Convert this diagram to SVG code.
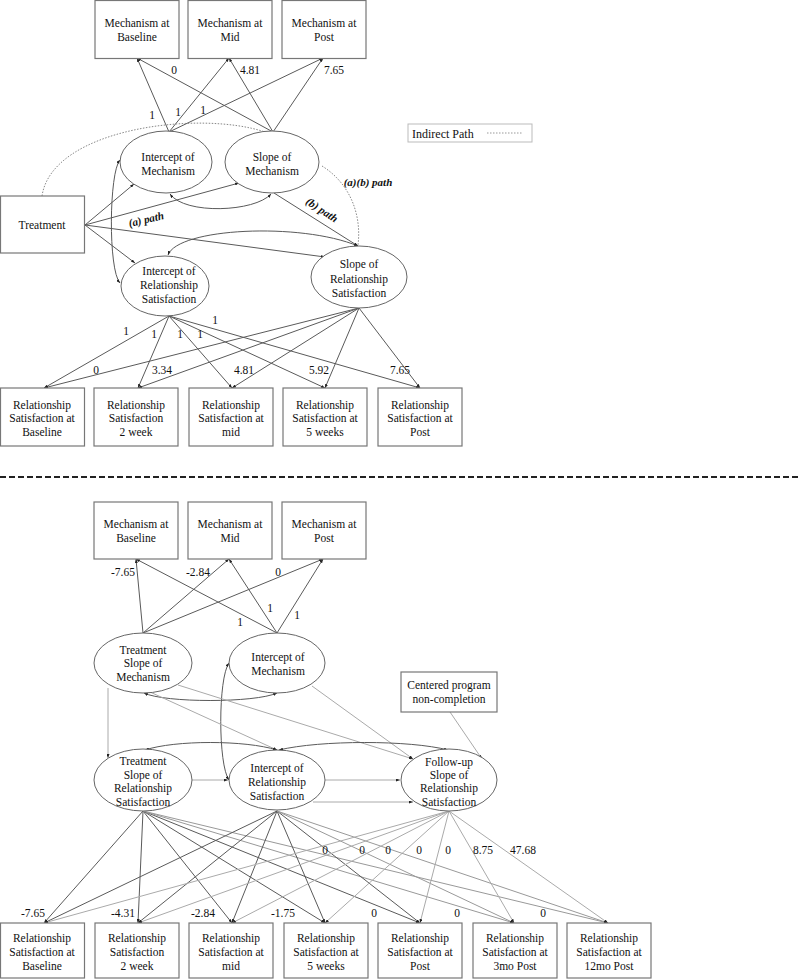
<svg xmlns="http://www.w3.org/2000/svg" width="800" height="980" viewBox="0 0 800 980" font-family="'Liberation Serif','Times New Roman',serif">
<style>
.box{fill:#fff;stroke:#777;stroke-width:1.2}
.ell{fill:#fff;stroke:#666;stroke-width:1}
text{font-family:"Liberation Serif","Times New Roman",serif;font-size:11.5px;fill:#111}
.t{text-anchor:middle}
.lab{font-size:11.5px}
.bi{font-weight:bold;font-style:italic;font-size:11px}
.d{stroke:#5a5a5a;stroke-width:1;fill:none}
.l{stroke:#aaa;stroke-width:1;fill:none}
.m{stroke:#999;stroke-width:1;fill:none}
.dot{stroke:#888;stroke-width:1;fill:none;stroke-dasharray:1.5 1.5}
</style>
<defs>
<marker id="a" markerWidth="4" markerHeight="3" refX="4" refY="1.5" orient="auto" markerUnits="userSpaceOnUse"><path d="M0,0 L4,1.5 L0,3 z" fill="#222"/></marker>
<marker id="s" markerWidth="4" markerHeight="3" refX="0" refY="1.5" orient="auto" markerUnits="userSpaceOnUse"><path d="M4,0 L0,1.5 L4,3 z" fill="#222"/></marker>
</defs>

<g id="connectors">
<line class="d" x1="169" y1="132" x2="137" y2="58" marker-end="url(#a)"/>
<line class="d" x1="169" y1="132" x2="229" y2="58" marker-end="url(#a)"/>
<line class="d" x1="169" y1="132" x2="323" y2="58" marker-end="url(#a)"/>
<line class="d" x1="273" y1="132" x2="137" y2="58" marker-end="url(#a)"/>
<line class="d" x1="273" y1="132" x2="229" y2="58" marker-end="url(#a)"/>
<line class="d" x1="273" y1="132" x2="323" y2="58" marker-end="url(#a)"/>
<path class="dot" d="M42,196 C52,128 200,110 265,132"/>
<path class="dot" d="M322,166 C348,182 362,212 358,245"/>
<line class="d" x1="85" y1="225" x2="134" y2="184" marker-end="url(#a)"/>
<line class="d" x1="85" y1="225" x2="239" y2="183" marker-end="url(#a)"/>
<line class="d" x1="85" y1="225" x2="135" y2="263" marker-end="url(#a)"/>
<line class="d" x1="85" y1="225" x2="325" y2="257" marker-end="url(#a)"/>
<line class="d" x1="274" y1="193" x2="358" y2="246" marker-end="url(#a)"/>
<path class="d" d="M170,194 C185,215 255,212 271,194" marker-start="url(#s)" marker-end="url(#a)"/>
<path class="d" d="M168,255 C178,228 300,222 358,246" marker-start="url(#s)" marker-end="url(#a)"/>
<path class="d" d="M120,160 C109,172 108,270 120,283" marker-start="url(#s)" marker-end="url(#a)"/>
<line class="d" x1="169" y1="316" x2="44" y2="388" marker-end="url(#a)"/>
<line class="d" x1="169" y1="316" x2="138" y2="388" marker-end="url(#a)"/>
<line class="d" x1="169" y1="316" x2="232" y2="388" marker-end="url(#a)"/>
<line class="d" x1="169" y1="316" x2="325" y2="388" marker-end="url(#a)"/>
<line class="d" x1="169" y1="316" x2="420" y2="388" marker-end="url(#a)"/>
<line class="d" x1="359" y1="308" x2="44" y2="388" marker-end="url(#a)"/>
<line class="d" x1="359" y1="308" x2="138" y2="388" marker-end="url(#a)"/>
<line class="d" x1="359" y1="308" x2="232" y2="388" marker-end="url(#a)"/>
<line class="d" x1="359" y1="308" x2="325" y2="388" marker-end="url(#a)"/>
<line class="d" x1="359" y1="308" x2="420" y2="388" marker-end="url(#a)"/>
<line x1="0" y1="477" x2="800" y2="477" stroke="#222" stroke-width="2" stroke-dasharray="6 3"/>

<line class="d" x1="143" y1="633" x2="136" y2="559" marker-end="url(#a)"/>
<line class="d" x1="143" y1="633" x2="229" y2="559" marker-end="url(#a)"/>
<line class="d" x1="143" y1="633" x2="323" y2="559" marker-end="url(#a)"/>
<line class="d" x1="277" y1="633" x2="136" y2="559" marker-end="url(#a)"/>
<line class="d" x1="277" y1="633" x2="229" y2="559" marker-end="url(#a)"/>
<line class="d" x1="277" y1="633" x2="323" y2="559" marker-end="url(#a)"/>
<path class="d" d="M144,693 C165,703 255,703 277,693" marker-start="url(#s)" marker-end="url(#a)"/>
<path class="d" d="M229,663 C218,678 218,765 229,780" marker-start="url(#s)" marker-end="url(#a)"/>
<line class="l" x1="108" y1="688" x2="108" y2="758" marker-end="url(#a)"/>
<line class="l" x1="150" y1="692" x2="277" y2="750" marker-end="url(#a)"/>
<line class="l" x1="178" y1="685" x2="413" y2="759" marker-end="url(#a)"/>
<line class="l" x1="312" y1="686" x2="413" y2="759" marker-end="url(#a)"/>
<line class="l" x1="450" y1="712" x2="482" y2="759" marker-end="url(#a)"/>
<path class="d" d="M145,750 C175,740 245,740 277,750" marker-start="url(#s)" marker-end="url(#a)"/>
<path class="d" d="M279,750 C320,740 410,740 448,750" marker-start="url(#s)" marker-end="url(#a)"/>
<line class="l" x1="192" y1="780" x2="228" y2="780" marker-end="url(#a)"/>
<line class="l" x1="325" y1="780" x2="400" y2="780" marker-end="url(#a)"/>
<line class="l" x1="313" y1="802" x2="413" y2="802" marker-end="url(#a)"/>
<line class="d" x1="143" y1="811" x2="44" y2="923" marker-end="url(#a)"/>
<line class="d" x1="143" y1="811" x2="138" y2="923" marker-end="url(#a)"/>
<line class="d" x1="143" y1="811" x2="232" y2="923" marker-end="url(#a)"/>
<line class="d" x1="143" y1="811" x2="325" y2="923" marker-end="url(#a)"/>
<line class="d" x1="143" y1="811" x2="420" y2="923" marker-end="url(#a)"/>
<line class="m" x1="143" y1="811" x2="514" y2="923" marker-end="url(#a)"/>
<line class="m" x1="143" y1="811" x2="608" y2="923" marker-end="url(#a)"/>
<line class="d" x1="277" y1="811" x2="44" y2="923" marker-end="url(#a)"/>
<line class="d" x1="277" y1="811" x2="138" y2="923" marker-end="url(#a)"/>
<line class="d" x1="277" y1="811" x2="232" y2="923" marker-end="url(#a)"/>
<line class="d" x1="277" y1="811" x2="325" y2="923" marker-end="url(#a)"/>
<line class="d" x1="277" y1="811" x2="420" y2="923" marker-end="url(#a)"/>
<line class="m" x1="277" y1="811" x2="514" y2="923" marker-end="url(#a)"/>
<line class="m" x1="277" y1="811" x2="608" y2="923" marker-end="url(#a)"/>
<line class="l" x1="449" y1="811" x2="44" y2="923" marker-end="url(#a)"/>
<line class="l" x1="449" y1="811" x2="138" y2="923" marker-end="url(#a)"/>
<line class="l" x1="449" y1="811" x2="232" y2="923" marker-end="url(#a)"/>
<line class="l" x1="449" y1="811" x2="325" y2="923" marker-end="url(#a)"/>
<line class="l" x1="449" y1="811" x2="420" y2="923" marker-end="url(#a)"/>
<line class="l" x1="449" y1="811" x2="514" y2="923" marker-end="url(#a)"/>
<line class="l" x1="449" y1="811" x2="608" y2="923" marker-end="url(#a)"/>
</g>

<g id="labels">
<text class="lab t" x="174" y="74">0</text>
<text class="lab t" x="250" y="74">4.81</text>
<text class="lab t" x="334" y="74">7.65</text>
<text class="lab t" x="152" y="119">1</text>
<text class="lab t" x="178" y="116">1</text>
<text class="lab t" x="203" y="114">1</text>
<text class="bi t" x="368" y="186">(a)(b) path</text>
<text class="bi t" transform="translate(320,213) rotate(33)">(b) path</text>
<text class="bi t" transform="translate(147,223) rotate(-13)">(a) path</text>
<text class="lab t" x="126" y="335">1</text>
<text class="lab t" x="154" y="338">1</text>
<text class="lab t" x="180" y="338">1</text>
<text class="lab t" x="200" y="338">1</text>
<text class="lab t" x="215" y="324">1</text>
<text class="lab t" x="96" y="374">0</text>
<text class="lab t" x="162" y="374">3.34</text>
<text class="lab t" x="244" y="374">4.81</text>
<text class="lab t" x="319" y="374">5.92</text>
<text class="lab t" x="400" y="374">7.65</text>
<text class="lab t" x="123" y="576">-7.65</text>
<text class="lab t" x="198" y="576">-2.84</text>
<text class="lab t" x="278" y="576">0</text>
<text class="lab t" x="240" y="626">1</text>
<text class="lab t" x="270" y="612">1</text>
<text class="lab t" x="297" y="619">1</text>
<text class="lab t" x="325" y="854">0</text>
<text class="lab t" x="362" y="854">0</text>
<text class="lab t" x="388" y="854">0</text>
<text class="lab t" x="419" y="854">0</text>
<text class="lab t" x="448" y="854">0</text>
<text class="lab t" x="483" y="854">8.75</text>
<text class="lab t" x="523" y="854">47.68</text>
<text class="lab t" x="33" y="917">-7.65</text>
<text class="lab t" x="123" y="917">-4.31</text>
<text class="lab t" x="203" y="917">-2.84</text>
<text class="lab t" x="283" y="917">-1.75</text>
<text class="lab t" x="374" y="917">0</text>
<text class="lab t" x="457" y="917">0</text>
<text class="lab t" x="543" y="917">0</text>
</g>

<g id="legend">
<rect x="408" y="124" width="124" height="18" fill="none" stroke="#bbb" stroke-width="1"/>
<text x="412" y="138" style="font-size:12px">Indirect Path</text>
<line x1="487" y1="133" x2="522" y2="133" stroke="#999" stroke-width="1" stroke-dasharray="1.5 1.5"/>
</g>

<g id="mech_base_1"><rect class="box" x="95" y="0.5" width="84" height="58"/><text class="t" x="137" y="27">Mechanism at</text><text class="t" x="137" y="41">Baseline</text></g>
<g id="mech_mid_1"><rect class="box" x="188" y="0.5" width="84" height="58"/><text class="t" x="230" y="27">Mechanism at</text><text class="t" x="230" y="41">Mid</text></g>
<g id="mech_post_1"><rect class="box" x="282" y="0.5" width="84" height="58"/><text class="t" x="324" y="27">Mechanism at</text><text class="t" x="324" y="41">Post</text></g>
<g id="int_mech_1"><ellipse class="ell" cx="166" cy="162" rx="46" ry="31"/><text class="t" x="168" y="161">Intercept of</text><text class="t" x="168" y="175">Mechanism</text></g>
<g id="slope_mech_1"><ellipse class="ell" cx="272" cy="162" rx="47" ry="31"/><text class="t" x="272" y="161">Slope of</text><text class="t" x="272" y="175">Mechanism</text></g>
<g id="treatment"><rect class="box" x="0.5" y="196" width="84" height="57"/><text class="t" x="42" y="229">Treatment</text></g>
<g id="int_rs_1"><ellipse class="ell" cx="165" cy="286" rx="44" ry="30"/><text class="t" x="169" y="275">Intercept of</text><text class="t" x="169" y="289">Relationship</text><text class="t" x="169" y="303">Satisfaction</text></g>
<g id="slope_rs_1"><ellipse class="ell" cx="359" cy="277" rx="48" ry="31"/><text class="t" x="359" y="268">Slope of</text><text class="t" x="359" y="283">Relationship</text><text class="t" x="359" y="297">Satisfaction</text></g>
<g id="rs_base_1"><rect class="box" x="0.5" y="388" width="84" height="58"/><text class="t" x="42" y="409">Relationship</text><text class="t" x="42" y="422">Satisfaction at</text><text class="t" x="42" y="436">Baseline</text></g>
<g id="rs_2wk_1"><rect class="box" x="94" y="388" width="84" height="58"/><text class="t" x="136" y="409">Relationship</text><text class="t" x="136" y="422">Satisfaction</text><text class="t" x="136" y="436">2 week</text></g>
<g id="rs_mid_1"><rect class="box" x="189" y="388" width="84" height="58"/><text class="t" x="231" y="409">Relationship</text><text class="t" x="231" y="422">Satisfaction at</text><text class="t" x="231" y="436">mid</text></g>
<g id="rs_5wk_1"><rect class="box" x="283" y="388" width="84" height="58"/><text class="t" x="325" y="409">Relationship</text><text class="t" x="325" y="422">Satisfaction at</text><text class="t" x="325" y="436">5 weeks</text></g>
<g id="rs_post_1"><rect class="box" x="378" y="388" width="84" height="58"/><text class="t" x="420" y="409">Relationship</text><text class="t" x="420" y="422">Satisfaction at</text><text class="t" x="420" y="436">Post</text></g>

<g id="mech_base_2"><rect class="box" x="94" y="502" width="84" height="57"/><text class="t" x="136" y="528">Mechanism at</text><text class="t" x="136" y="542">Baseline</text></g>
<g id="mech_mid_2"><rect class="box" x="188" y="502" width="84" height="57"/><text class="t" x="230" y="528">Mechanism at</text><text class="t" x="230" y="542">Mid</text></g>
<g id="mech_post_2"><rect class="box" x="282" y="502" width="84" height="57"/><text class="t" x="324" y="528">Mechanism at</text><text class="t" x="324" y="542">Post</text></g>
<g id="treat_slope_mech"><ellipse class="ell" cx="143" cy="663" rx="49" ry="30"/><text class="t" x="143" y="654">Treatment</text><text class="t" x="143" y="667">Slope of</text><text class="t" x="143" y="681">Mechanism</text></g>
<g id="int_mech_2"><ellipse class="ell" cx="277" cy="663" rx="48" ry="30"/><text class="t" x="278" y="661">Intercept of</text><text class="t" x="278" y="675">Mechanism</text></g>
<g id="noncompletion"><rect class="box" x="401" y="672" width="96" height="40"/><text class="t" x="449" y="689">Centered program</text><text class="t" x="449" y="703">non-completion</text></g>
<g id="treat_slope_rs"><ellipse class="ell" cx="143" cy="780" rx="49" ry="31"/><text class="t" x="143" y="765">Treatment</text><text class="t" x="143" y="779">Slope of</text><text class="t" x="143" y="792">Relationship</text><text class="t" x="143" y="806">Satisfaction</text></g>
<g id="int_rs_2"><ellipse class="ell" cx="277" cy="780" rx="48" ry="30"/><text class="t" x="277" y="772">Intercept of</text><text class="t" x="277" y="786">Relationship</text><text class="t" x="277" y="800">Satisfaction</text></g>
<g id="followup_slope_rs"><ellipse class="ell" cx="449" cy="780" rx="48" ry="31"/><text class="t" x="449" y="766">Follow-up</text><text class="t" x="449" y="779">Slope of</text><text class="t" x="449" y="792">Relationship</text><text class="t" x="449" y="806">Satisfaction</text></g>
<g id="rs_base_2"><rect class="box" x="0.5" y="923" width="84" height="55"/><text class="t" x="42" y="942">Relationship</text><text class="t" x="42" y="956">Satisfaction at</text><text class="t" x="42" y="970">Baseline</text></g>
<g id="rs_2wk_2"><rect class="box" x="95" y="923" width="84" height="55"/><text class="t" x="137" y="942">Relationship</text><text class="t" x="137" y="956">Satisfaction</text><text class="t" x="137" y="970">2 week</text></g>
<g id="rs_mid_2"><rect class="box" x="189" y="923" width="84" height="55"/><text class="t" x="231" y="942">Relationship</text><text class="t" x="231" y="956">Satisfaction at</text><text class="t" x="231" y="970">mid</text></g>
<g id="rs_5wk_2"><rect class="box" x="284" y="923" width="84" height="55"/><text class="t" x="326" y="942">Relationship</text><text class="t" x="326" y="956">Satisfaction at</text><text class="t" x="326" y="970">5 weeks</text></g>
<g id="rs_post_2"><rect class="box" x="378" y="923" width="84" height="55"/><text class="t" x="420" y="942">Relationship</text><text class="t" x="420" y="956">Satisfaction at</text><text class="t" x="420" y="970">Post</text></g>
<g id="rs_3mo"><rect class="box" x="473" y="923" width="84" height="55"/><text class="t" x="515" y="942">Relationship</text><text class="t" x="515" y="956">Satisfaction at</text><text class="t" x="515" y="970">3mo Post</text></g>
<g id="rs_12mo"><rect class="box" x="567" y="923" width="84" height="55"/><text class="t" x="609" y="942">Relationship</text><text class="t" x="609" y="956">Satisfaction at</text><text class="t" x="609" y="970">12mo Post</text></g>
</svg>
